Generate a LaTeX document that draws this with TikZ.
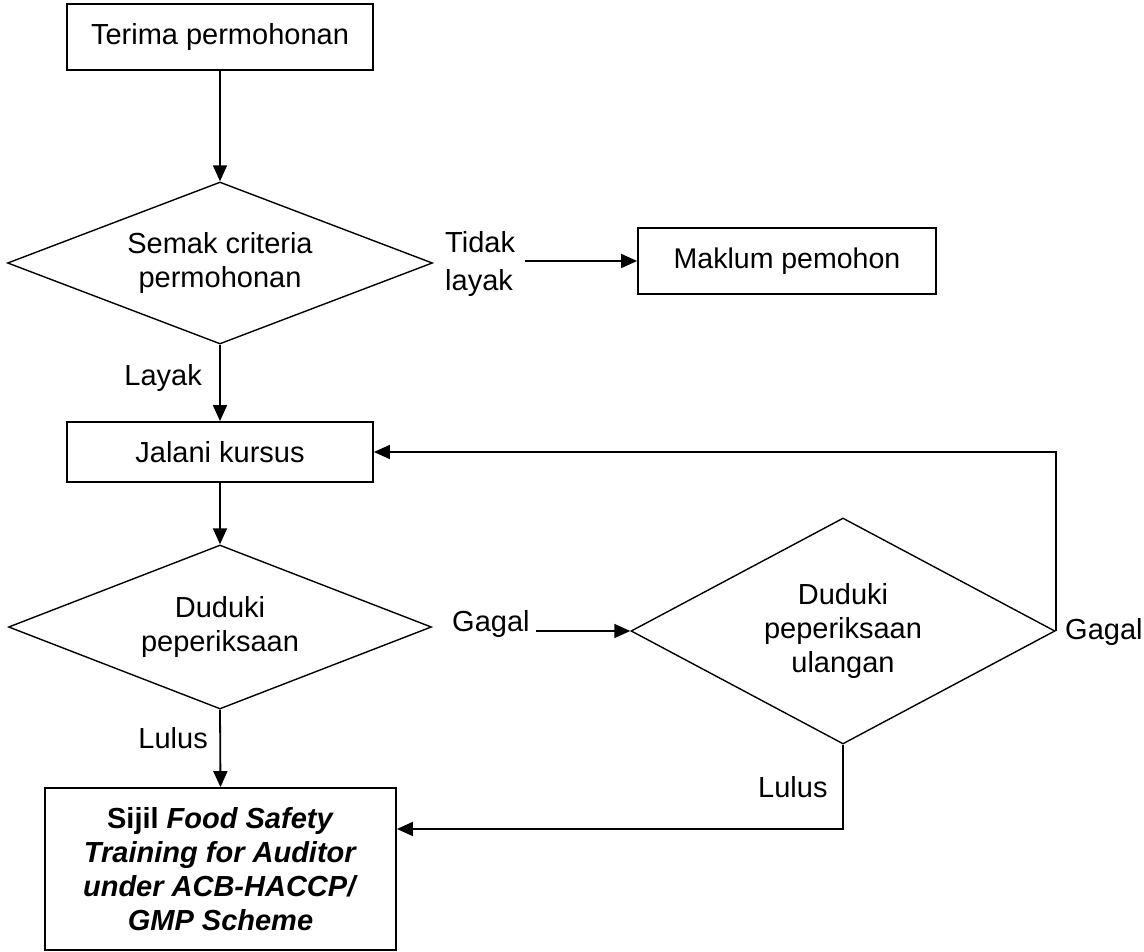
\documentclass[tikz,border=0pt]{standalone}
\usepackage{fontspec}
\setmainfont{Liberation Sans}
\usetikzlibrary{shapes.geometric,arrows.meta}
\begin{document}
\begin{tikzpicture}[x=1pt,y=-1pt,
  every node/.style={font=\fontsize{29}{34}\selectfont},
  box/.style={draw,line width=1.8pt,inner sep=0pt,align=center},
  dec/.style={draw,diamond,line width=1.4pt,inner sep=0pt,align=center},
  lbl/.style={inner sep=0pt,align=left},
  arr/.style={line width=1.8pt,-{Triangle[length=16pt,width=14pt]}}]
\useasboundingbox (0,0) rectangle (1144,952);
\node[box,minimum width=306pt,minimum height=66pt] (T) at (220,37) {Terima permohonan};
\node[dec,minimum width=425pt,minimum height=162pt,aspect=2.62] (D1) at (220,263) {Semak criteria\\permohonan};
\node[box,minimum width=298pt,minimum height=66pt,font=\fontsize{28.5}{34}\selectfont] (M) at (787,261) {Maklum pemohon};
\node[box,minimum width=306pt,minimum height=60pt] (J) at (220,452) {Jalani kursus};
\node[dec,minimum width=423pt,minimum height=164pt,aspect=2.58] (D2) at (220,627) {Duduki\\peperiksaan};
\node[dec,minimum width=424pt,minimum height=226pt,aspect=1.88] (D3) at (843,631) {Duduki\\peperiksaan\\ulangan};
\node[box,minimum width=351pt,minimum height=162pt] (S) at (220.5,869) {\textbf{Sijil \textit{Food Safety}}\\\textbf{\textit{Training for Auditor}}\\\textbf{\textit{under ACB-HACCP/}}\\\textbf{\textit{GMP Scheme}}};
% labels
\node[lbl,anchor=west,font=\fontsize{29}{38}\selectfont] (tl) at (445,264) {Tidak\\layak};
\node[lbl,anchor=east] (ly) at (202,378) {Layak};
\node[lbl,anchor=west] (g1) at (452,624) {Gagal};
\node[lbl,anchor=west] (g2) at (1065,632) {Gagal};
\node[lbl,anchor=east] (l1) at (208,738) {Lulus};
\node[lbl,anchor=west] (l2) at (758,787) {Lulus};
\coordinate (lr) at (843,829);
% connectors
\draw[arr] (T.south) -- (D1.north);
\draw[arr] ([xshift=10pt]tl.east |- M.west) -- (M.west);
\draw[arr] (D1.south) -- (J.north);
\draw[arr] (J.south) -- (D2.north);
\draw[arr] ([xshift=6pt]g1.east |- D3.west) -- (D3.west);
\draw[arr] (D3.east) -- (D3.east |- J.east) -- (J.east);
\draw[arr] (D2.south) -- (S.north);
\draw[arr] (D3.south) -- (lr) -- (S.east |- lr);
\end{tikzpicture}
\end{document}
